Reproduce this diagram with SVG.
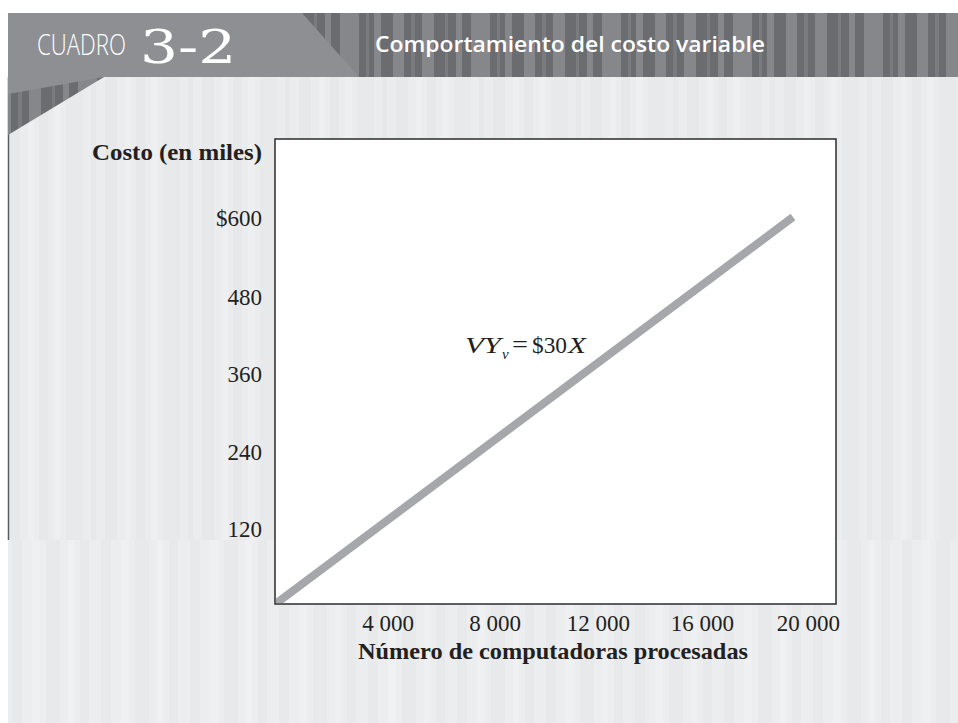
<svg xmlns="http://www.w3.org/2000/svg" width="958" height="723" viewBox="0 0 958 723">
  <defs>
    <pattern id="hdrStripes" patternUnits="userSpaceOnUse" x="0" y="13" width="131" height="64">
      <rect x="0" y="0" width="131" height="64" fill="#6b6c70"/>
      <rect x="0" y="0" width="11" height="64" fill="#86878a"/>
      <rect x="18" y="0" width="4" height="64" fill="#7a7b7f"/>
      <rect x="29" y="0" width="12" height="64" fill="#86878a"/>
      <rect x="52" y="0" width="3" height="64" fill="#7a7b7f"/>
      <rect x="63" y="0" width="6" height="64" fill="#86878a"/>
      <rect x="78" y="0" width="19" height="64" fill="#86878a"/>
      <rect x="104" y="0" width="3" height="64" fill="#7a7b7f"/>
      <rect x="112" y="0" width="7" height="64" fill="#86878a"/>
    </pattern>
    <pattern id="bgStripes" patternUnits="userSpaceOnUse" x="8" y="0" width="97" height="20">
      <rect x="0" y="0" width="97" height="20" fill="#ebeced"/>
      <rect x="0" y="0" width="12" height="20" fill="#e7e8e9"/>
      <rect x="20" y="0" width="6" height="20" fill="#eeeff0"/>
      <rect x="31" y="0" width="9" height="20" fill="#e7e8e9"/>
      <rect x="46" y="0" width="7" height="20" fill="#eeeff0"/>
      <rect x="58" y="0" width="17" height="20" fill="#e8e9ea"/>
      <rect x="83" y="0" width="5" height="20" fill="#e7e8e9"/>
    </pattern>
    <pattern id="bgStripes2" patternUnits="userSpaceOnUse" x="8" y="0" width="89" height="20">
      <rect x="0" y="0" width="89" height="20" fill="#ecedee"/>
      <rect x="4" y="0" width="10" height="20" fill="#e8e9ea"/>
      <rect x="24" y="0" width="8" height="20" fill="#eff0f1"/>
      <rect x="38" y="0" width="14" height="20" fill="#e8e9ea"/>
      <rect x="60" y="0" width="6" height="20" fill="#eff0f1"/>
      <rect x="72" y="0" width="9" height="20" fill="#e8e9ea"/>
    </pattern>
    <clipPath id="plotClip">
      <rect x="276" y="140" width="559" height="463"/>
    </clipPath>
  </defs>
  <style>
    .serif { font-family: "Liberation Serif", "Times New Roman", serif; fill: #231f20; }
    .tick { font-size: 23px; }
    .ytick { text-anchor: end; }
    .bold { font-weight: bold; }
    .hdr { fill: #ffffff; }
  </style>

  <g id="background">
    <rect x="8" y="77" width="950" height="463" fill="url(#bgStripes)"/>
    <rect x="8" y="540" width="950" height="183" fill="url(#bgStripes2)"/>
    <line x1="8.5" y1="77" x2="8.5" y2="540" stroke="#5c5d60" stroke-width="1.5"/>
  </g>

  <g id="header">
    <rect x="8" y="13" width="950" height="64" fill="url(#hdrStripes)"/>
    <polygon points="8,77 104,77 8,135" fill="url(#hdrStripes)"/>
    <polygon points="8,13 302,13 359,77 104,77 8,94" fill="#8e8f93"/>
    <text transform="translate(37,55) scale(0.74,1)" x="0" y="0" class="hdr" font-family="'Open Sans', 'DejaVu Sans', sans-serif" font-weight="300" font-size="30">CUADRO</text>
    <text transform="translate(140,63) scale(1.3,1)" x="0" y="0" class="hdr" font-family="'DejaVu Serif', 'Liberation Serif', serif" font-size="46">3-2</text>
    <text x="375" y="52" class="hdr" font-family="'Open Sans', 'DejaVu Sans', sans-serif" font-weight="600" font-size="22" textLength="390" lengthAdjust="spacingAndGlyphs">Comportamiento del costo variable</text>
  </g>

  <g id="plot">
    <rect x="275" y="139" width="561" height="465" fill="#ffffff" stroke="#2b2b2b" stroke-width="1.5"/>
  </g>

  <g id="connectors">
    <line x1="274" y1="605" x2="793" y2="217" stroke="#a6a7aa" stroke-width="8" stroke-linecap="butt" clip-path="url(#plotClip)"/>
  </g>

  <g id="y-axis-labels">
    <text x="262" y="160" class="serif bold" font-size="23" text-anchor="end" textLength="170" lengthAdjust="spacingAndGlyphs">Costo (en miles)</text>
    <text x="262" y="226" class="serif tick ytick">$600</text>
    <text x="262" y="305" class="serif tick ytick">480</text>
    <text x="262" y="382" class="serif tick ytick">360</text>
    <text x="262" y="460" class="serif tick ytick">240</text>
    <text x="262" y="537" class="serif tick ytick">120</text>
  </g>

  <g id="x-axis-labels">
    <text x="414" y="631" class="serif tick" text-anchor="end">4 000</text>
    <text x="521" y="631" class="serif tick" text-anchor="end">8 000</text>
    <text x="630" y="631" class="serif tick" text-anchor="end">12 000</text>
    <text x="734" y="631" class="serif tick" text-anchor="end">16 000</text>
    <text x="840" y="631" class="serif tick" text-anchor="end">20 000</text>
    <text x="358" y="659" class="serif bold" font-size="23" textLength="390" lengthAdjust="spacingAndGlyphs">Número de computadoras procesadas</text>
  </g>

  <g id="equation">
    <text class="serif" font-size="24" y="353"><tspan x="465" font-style="italic" textLength="36" lengthAdjust="spacingAndGlyphs">VY</tspan><tspan x="502" y="359" font-size="15" font-style="italic">v</tspan><tspan x="512" y="353" font-size="26" textLength="16" lengthAdjust="spacingAndGlyphs">=</tspan><tspan x="532" textLength="35" lengthAdjust="spacingAndGlyphs">$30</tspan><tspan x="568" font-style="italic" textLength="18" lengthAdjust="spacingAndGlyphs">X</tspan></text>
  </g>
</svg>
